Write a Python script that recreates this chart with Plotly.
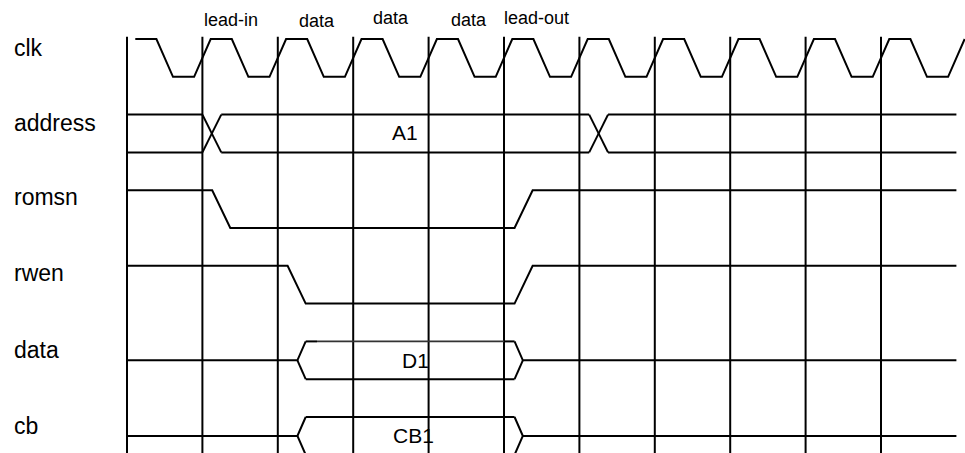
import plotly.graph_objects as go

# signal names, top to bottom
signals = ["clk", "address", "romsn", "rwen", "data", "cb"]
phases = ["lead-in", "data", "data", "data", "lead-out"]

# clock edges (in clock cycles)
clk_rise = [0, 1, 2, 3, 4, 5, 6, 7, 8, 9, 10, 11]
clk_fall = [0.5, 1.5, 2.5, 3.5, 4.5, 5.5, 6.5, 7.5, 8.5, 9.5, 10.5]

# address bus: value changes
addr_changes = [1.0, 6.13]
addr_value = "A1"

# control lines: start level, then (time, new level)
romsn_start = 1
romsn_edges = [(1.13, 0), (5.14, 1)]
rwen_start = 1
rwen_edges = [(2.13, 0), (5.14, 1)]

# data / cb buses: driven window
data_window = (2.26, 5.14)
data_value = "D1"
cb_window = (2.26, 5.14)
cb_value = "CB1"

t_end = 11.0
n_cycles = 10

W, H = 965, 453
X0, DX = 127, 75.4      # pixel of t=0, pixels per cycle
Y0, DY = 39, 75.6       # pixel of first lane top, pixels per lane
LINE = dict(color="black", width=2)

fig = go.Figure()


def add_line(xs, ys, line=LINE):
    fig.add_trace(go.Scatter(x=xs, y=ys, mode="lines", line=line,
                             hoverinfo="skip", showlegend=False))


def level_y(lane, level):
    return lane + (0 if level else 0.5)


# clock
lane = 0
slew = 0.11
xs, ys = [slew], [level_y(lane, 1)]
events = sorted([(t, 0) for t in clk_fall] + [(t, 1) for t in clk_rise if t > 0])
for t, lv in events:
    xs += [t - slew, t + slew]
    ys += [level_y(lane, 1 - lv), level_y(lane, lv)]
add_line(xs, ys)


# control signals
def control(lane, start, edges, slew=0.24):
    xs, ys = [0], [level_y(lane, start)]
    lv = start
    for t, new in edges:
        xs += [t, t + slew]
        ys += [level_y(lane, lv), level_y(lane, new)]
        lv = new
    xs.append(t_end)
    ys.append(level_y(lane, lv))
    add_line(xs, ys)


control(2, romsn_start, romsn_edges)
control(3, rwen_start, rwen_edges)

# address bus with crossings
lane = 1
top, bot = lane, lane + 0.5
cross = 0.25
pts = [0] + addr_changes + [t_end]
for i in range(len(pts) - 1):
    a = pts[i] + (cross if i > 0 else 0)
    b = pts[i + 1]
    add_line([a, b], [top, top])
    add_line([a, b], [bot, bot])
for t in addr_changes:
    add_line([t, t + cross], [top, bot])
    add_line([t, t + cross], [bot, top])


# tri-state buses
def tristate(lane, window, thin_top=False):
    top, mid, bot = lane, lane + 0.25, lane + 0.5
    a, b = window
    s = 0.11
    add_line([0, a, a + s], [mid, mid, top])
    add_line([a, a + s], [mid, bot])
    if thin_top:
        add_line([a + s, a + 0.26], [top, top])
        add_line([a + 0.26, b - 0.14], [top, top], dict(color="#333", width=1.6))
        add_line([b - 0.14, b], [top, top])
    else:
        add_line([a + s, b], [top, top])
    add_line([a + s, b], [bot, bot])
    add_line([b, b + s, t_end], [top, mid, mid])
    add_line([b, b + s], [bot, mid])


tristate(4, data_window, thin_top=True)
tristate(5, cb_window)

# vertical cycle lines
for k in range(n_cycles + 1):
    fig.add_shape(type="line", x0=k, x1=k, y0=-0.03, y1=5.6,
                  line=LINE, layer="below")

FONT = "Liberation Sans, Arial, sans-serif"


def px_t(p):
    return (p - X0) / DX


def px_u(p):
    return (p - Y0) / DY


# signal names
name_y = [48, 123, 197, 273, 350, 426]
for name, py in zip(signals, name_y):
    fig.add_annotation(x=px_t(12), y=px_u(py), text=name, showarrow=False,
                       xanchor="left", yanchor="middle",
                       font=dict(family=FONT, size=23, color="black"))

# phase labels on top
phase_x = [230.5, 317, 390.5, 469, 536.5]
phase_y = [20, 20.5, 17.5, 20, 18]
for txt, px, py in zip(phases, phase_x, phase_y):
    fig.add_annotation(x=px_t(px), y=px_u(py), text=txt, showarrow=False,
                       xanchor="center", yanchor="middle",
                       font=dict(family=FONT, size=18, color="black"))

# bus values
for txt, px, py in [(addr_value, 404.5, 132), (data_value, 415, 360), (cb_value, 413, 435)]:
    fig.add_annotation(x=px_t(px), y=px_u(py), text=txt, showarrow=False,
                       xanchor="center", yanchor="middle",
                       font=dict(family=FONT, size=21, color="black"))

fig.update_layout(
    width=W, height=H,
    margin=dict(l=0, r=0, t=0, b=0),
    plot_bgcolor="white", paper_bgcolor="white",
    xaxis=dict(range=[px_t(0), px_t(W)], visible=False, fixedrange=True),
    yaxis=dict(range=[px_u(H), px_u(0)], visible=False, fixedrange=True),
)

# drop the default page margin so the figure sits at the window corner
fig.write_html("out.html", config={"displayModeBar": False},
               post_script="document.body.style.margin='0';document.body.style.overflow='hidden';")
